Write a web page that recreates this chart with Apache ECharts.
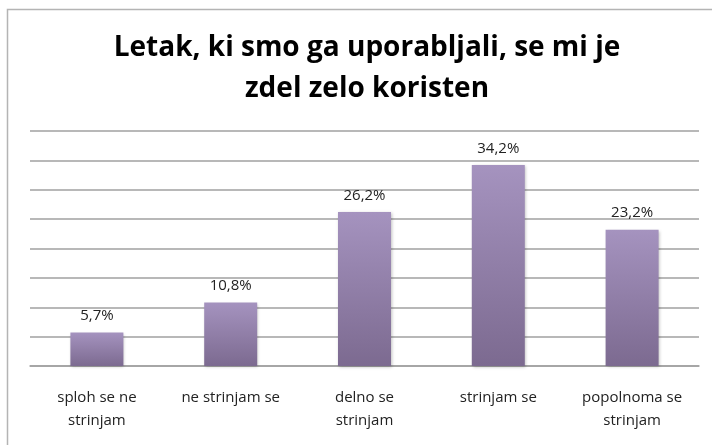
<!DOCTYPE html>
<html><head><meta charset="utf-8">
<script src="https://cdn.jsdelivr.net/npm/echarts@6/dist/echarts.min.js"></script>
<style>html,body{margin:0;padding:0;background:#fff}#c{width:712px;height:445px}</style>
</head><body><div id="c"></div>
<script>
const titleText = 'Letak, ki smo ga uporabljali, se mi je\nzdel zelo koristen';
const categories = ['sploh se ne\nstrinjam', 'ne strinjam se', 'delno se\nstrinjam', 'strinjam se', 'popolnoma se\nstrinjam'];
const values = [5.7, 10.8, 26.2, 34.2, 23.2];
const yMin = 0, yMax = 40, yStep = 5;

const chart = echarts.init(document.getElementById('c'));
chart.setOption({
  animation: false,
  title: {
    text: titleText, left: 362, top: 23, textAlign: 'center',
    textStyle: { fontFamily: 'Open Sans', fontWeight: 'bold', fontSize: 28, lineHeight: 41, color: '#000' }
  },
  graphic: [{ type: 'rect', shape: { x: 7.5, y: 9.5, width: 730, height: 460 }, style: { fill: 'none', stroke: '#b4b4b4', lineWidth: 1.5 }, silent: true }],
  grid: { left: 30, right: 13, top: 131, bottom: 79, containLabel: false },
  xAxis: {
    type: 'category', data: categories,
    axisLine: { lineStyle: { color: '#a0a0a0', width: 1.5 } },
    axisTick: { show: false },
    axisLabel: { fontFamily: 'Open Sans', fontSize: 15, color: '#222', lineHeight: 23, margin: 20, interval: 0 }
  },
  yAxis: {
    type: 'value', min: yMin, max: yMax, interval: yStep,
    axisLine: { show: false }, axisTick: { show: false }, axisLabel: { show: false },
    splitLine: { lineStyle: { color: '#a0a0a0', width: 1.5 } }
  },
  series: [{
    type: 'bar', data: values, barWidth: 53,
    itemStyle: {
      color: new echarts.graphic.LinearGradient(0, 0, 0, 1, [
        { offset: 0, color: '#a593bf' }, { offset: 1, color: '#7c6a90' }
      ]),
      shadowColor: 'rgba(0,0,0,0.25)', shadowBlur: 3, shadowOffsetX: 1, shadowOffsetY: 1
    },
    label: {
      show: true, position: 'top', distance: 9,
      fontFamily: 'Open Sans', fontSize: 15, color: '#222',
      formatter: p => String(p.value).replace('.', ',') + '%'
    }
  }]
});
</script></body></html>
